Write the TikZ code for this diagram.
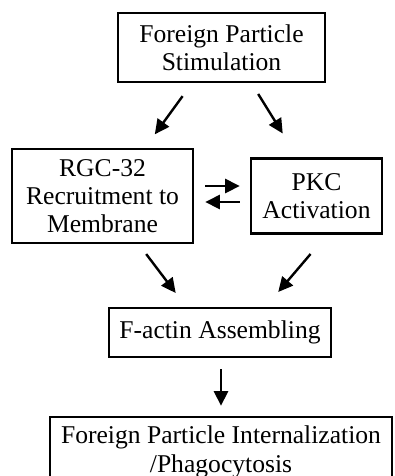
\documentclass[tikz,border=0pt]{standalone}
\usepackage{fontspec}
\setmainfont{Liberation Serif}
\usepackage{tikz}
\usetikzlibrary{arrows.meta, calc}
\tikzset{
    block/.style={
        rectangle,
        draw=black,
        line width=1.8pt,
        align=center,
        inner sep=0pt,
        font=\fontsize{19.2}{21.2}\selectfont
    },
    connection/.style={
        draw=black,
        line width=1.8pt,
        -{Triangle[length=11pt,width=10.5pt]}
    }
}
\begin{document}
\begin{tikzpicture}[x=0.75pt, y=-0.75pt]
\useasboundingbox (0,0) rectangle (394,476);

% Stimulus
\node[block, minimum width=207*0.75pt, minimum height=69*0.75pt] (stim) at (221.5,47.5) {Foreign Particle\\Stimulation};

% Signalling
\node[block, minimum width=181*0.75pt, minimum height=94*0.75pt] (rgc) at (102.5,196) {RGC-32\\Recruitment to\\Membrane};
\node[block, minimum width=131*0.75pt, minimum height=75*0.75pt] (pkc) at (316.5,196) {PKC\\Activation};

% Response
\node[block, minimum width=222*0.75pt, minimum height=49*0.75pt] (factin) at (220,332.5) {F-actin Assembling};
\node[block, minimum width=342*0.75pt, minimum height=70*0.75pt] (phago) at (221,452) {Foreign Particle Internalization\\/Phagocytosis};

% Connections
\draw[connection, shorten <=12pt, shorten >=12.5pt] ($(stim.south)+(-29.5,0)$) -- ($(rgc.north)+(42.5,0)$);
\draw[connection, shorten <=9.5pt, shorten >=21pt] ($(stim.south)+(30,0)$) -- ($(pkc.north)+(-19,0)$);
\draw[connection, shorten <=8.25pt, shorten >=7.5pt] ($(rgc.east)+(0,-10)$) -- ($(pkc.west)+(0,-10)$);
\draw[connection, shorten <=7.5pt, shorten >=8.25pt] ($(pkc.west)+(0,6)$) -- ($(rgc.east)+(0,6)$);
\draw[connection, shorten <=9.3pt, shorten >=13pt] ($(rgc.south)+(36.2,0)$) -- ($(factin.north)+(-33.8,0)$);
\draw[connection, shorten <=19pt, shorten >=14.6pt] ($(pkc.south)+(10.5,0)$) -- ($(factin.north)+(45.6,0)$);
\draw[connection, shorten <=8.25pt, shorten >=7.5pt] ($(factin.south)+(1,0)$) -- ($(phago.north)+(0,0)$);

\end{tikzpicture}
\end{document}
